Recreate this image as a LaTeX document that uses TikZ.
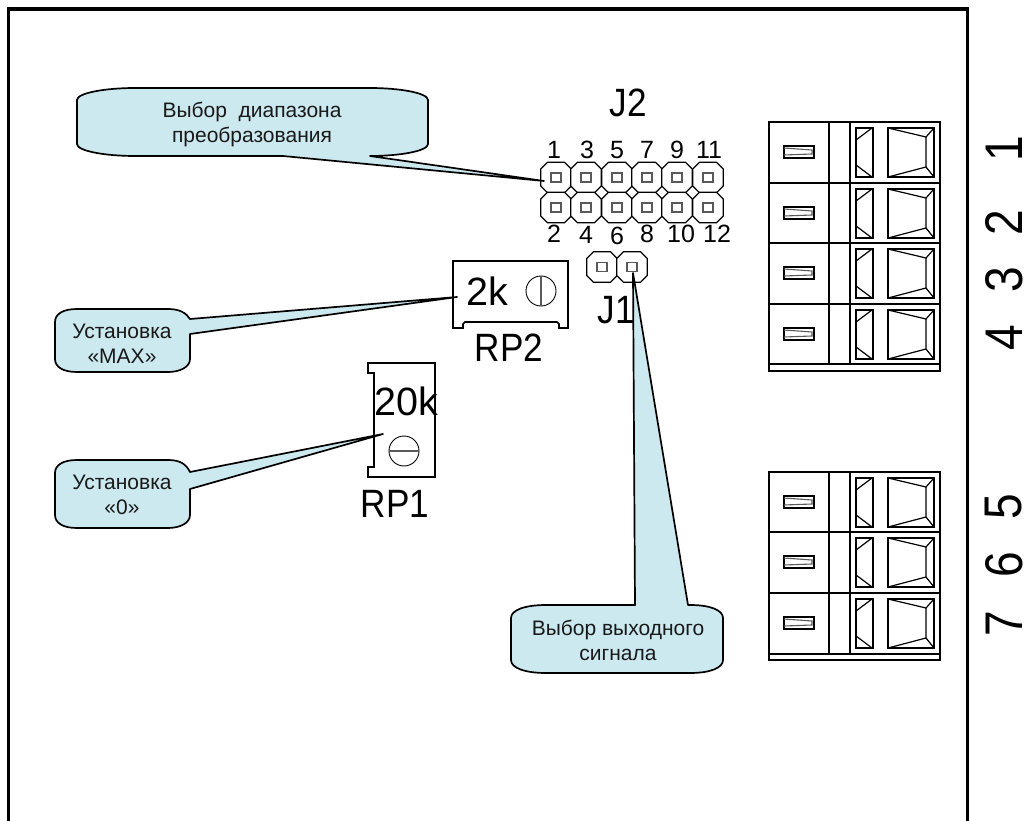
\documentclass[tikz,border=0pt]{standalone}
\usepackage{graphicx}
\usepackage{fontspec}
\setmainfont{Liberation Sans}
\definecolor{callfill}{HTML}{CCE9F0}
\tikzset{
  callout/.style={draw=black,fill=callfill,line width=1.7pt,line join=round},
  frameline/.style={draw=black,line width=3.3pt,line join=miter},
  partline/.style={draw=black,line width=1.6pt},
  thinpart/.style={draw=black,line width=1.2pt},
  graypart/.style={draw=black!65,line width=1.1pt},
  lab/.style={inner sep=0pt,font=\fontsize{21}{24.5}\selectfont,align=center,text=black!90},
  big/.style={inner sep=0pt,font=\fontsize{39.5}{44}\selectfont},
  pinnum/.style={inner sep=0pt,font=\fontsize{25}{28}\selectfont},
  side/.style={inner sep=0pt,rotate=90,font=\fontsize{53}{54}\selectfont},
  pic/.style={x=1pt,y=-1pt}
}
\newcommand{\tallt}[1]{\scalebox{.89}[1]{#1}}
\newcommand{\sidet}[1]{\scalebox{.87}[1]{#1}}
% octagonal pin at centre (#1,#2)
\newcommand{\pinoct}[2]{%
  \draw[thinpart,fill=white] (#1-15.3,#2-8.5) -- (#1-8.5,#2-15.3) -- (#1+8.5,#2-15.3) -- (#1+15.3,#2-8.5)
    -- (#1+15.3,#2+8.5) -- (#1+8.5,#2+15.3) -- (#1-8.5,#2+15.3) -- (#1-15.3,#2+8.5) -- cycle;
  \draw[graypart] (#1-5,#2-4.5) rectangle (#1+5,#2+4.5);}
% terminal row: top y, height
\newcommand{\termrow}[2]{%
  \draw[partline] (769,#1) rectangle (940,#1+#2);
  \draw[partline] (829,#1) -- (829,#1+#2);
  \draw[partline] (850,#1) -- (850,#1+#2);
  \draw[partline] (784,#1+24) rectangle (814,#1+36);
  \draw[graypart] (784,#1+26) -- (812,#1+28) -- (812,#1+32) -- (784,#1+33);
  \draw[partline] (856,#1+6) rectangle (873,#1+55);
  \draw[thinpart] (856,#1+18) -- (872,#1+6);
  \draw[thinpart] (856,#1+43) -- (872,#1+55);
  \draw[partline] (888,#1+6) rectangle (934,#1+55);
  \draw[thinpart] (888,#1+6) -- (926,#1+15) -- (934,#1+6);
  \draw[thinpart] (926,#1+15) -- (926,#1+45) -- (934,#1+55);
  \draw[thinpart] (926,#1+45) -- (888,#1+55);}
\begin{document}
\begin{tikzpicture}[pic]
\useasboundingbox (0,0) rectangle (1028,821);
\fill[white] (0,0) rectangle (1028,821);
% frame
\coordinate (fa) at (8.7,821);
\coordinate (fb) at (8.7,9);
\coordinate (fc) at (967.7,9);
\coordinate (fd) at (967.7,821);
\draw[frameline] (fa) -- (fb) -- (fc) -- (fd);
% terminals
\termrow{122}{61}\termrow{183}{60}\termrow{243}{61}\termrow{304}{60}
\draw[partline] (769,364) rectangle (940,371);
\termrow{472}{60}\termrow{532}{61}\termrow{593}{61}
\draw[partline] (769,654) rectangle (940,660);
% side numbers
\node[side] (s1) at (1004,149) {\sidet{1}};
\node[side] (s2) at (1004,223) {\sidet{2}};
\node[side] (s3) at (1004,280) {\sidet{3}};
\node[side] (s4) at (1004,338) {\sidet{4}};
\node[side] (s5) at (1004,507) {\sidet{5}};
\node[side] (s6) at (1004,565) {\sidet{6}};
\node[side] (s7) at (1004,624) {\sidet{7}};
% J2 header
\foreach \x in {556,586,617,647,677,708}{\pinoct{\x}{177.5}\pinoct{\x}{207.5}}
% J1 header
\pinoct{602}{267}\pinoct{632}{267}
\node[big] (j2) at (628,103) {\tallt{J2}};
\node[big] (j1) at (616,310) {\tallt{J1}};
\foreach \t/\x in {1/554,3/587,5/617,7/647,9/677,11/709}{\node[pinnum] at (\x,150) {\t};}
\foreach \t/\x/\y in {2/554/234,4/586/235,6/617/236,8/647/234,10/681/234,12/717/234}{\node[pinnum] at (\x,\y) {\t};}
% RP2
\draw[partline] (453,261) -- (568,261) -- (568,328) -- (559,328) -- (559,324) -- (557,322) -- (465,322) -- (463,324) -- (463,328) -- (453,328) -- cycle;
\draw[draw=black,line width=.9pt] (541,291) circle (15);
\draw[graypart] (541,276) -- (541,306);
\node[big] (k2) at (487.5,291) {2k};
\node[big] (rp2) at (509,347.5) {\tallt{RP2}};
% RP1
\draw[partline] (368,363) -- (435,363) -- (435,477) -- (368,477) -- (368,467) -- (374,467) -- (374,373) -- (368,373) -- cycle;
\draw[draw=black,line width=.9pt] (404,451) circle (15);
\draw[graypart] (389,451) -- (419,451);
\node[big] (k20) at (406,401) {20k};
\node[big] (rp1) at (395,504) {\tallt{RP1}};
% callouts
\coordinate (tipa) at (544,181);
\coordinate (tipb) at (457,297);
\coordinate (tipc) at (383,434);
\coordinate (tipd) at (633,273);
\draw[callout] (77,100) .. controls (77,93) and (105,88) .. (135,88) -- (370,88)
  .. controls (400,88) and (428,93) .. (428,100) -- (428,144)
  .. controls (428,151) and (400,156) .. (370,156) -- (tipa) -- (283,156) -- (135,156)
  .. controls (105,156) and (77,151) .. (77,144) -- cycle;
\draw[callout] (55,322) .. controls (55,314) and (63,309) .. (77,309) -- (168,309)
  .. controls (180,309) and (186,313) .. (190,319) -- (tipb) -- (190,334) -- (190,359)
  .. controls (190,367) and (180,372) .. (168,372) -- (77,372)
  .. controls (63,372) and (55,367) .. (55,359) -- cycle;
\draw[callout] (55,473) .. controls (55,465) and (63,460) .. (77,460) -- (168,460)
  .. controls (180,460) and (186,464) .. (190,472) -- (tipc) -- (190,489) -- (190,515)
  .. controls (190,523) and (180,528) .. (168,528) -- (77,528)
  .. controls (63,528) and (55,523) .. (55,515) -- cycle;
\draw[callout] (511,618) .. controls (511,610) and (525,605) .. (546,605) -- (635,605) -- (tipd) -- (688,605) -- (690,605)
  .. controls (710,605) and (723,610) .. (723,618) -- (723,660)
  .. controls (723,668) and (710,673) .. (690,673) -- (546,673)
  .. controls (525,673) and (511,668) .. (511,660) -- cycle;
\node[lab] (la) at (252,124.5) {Выбор\ \ диапазона\\преобразования};
\node[lab] (lb) at (122,344) {Установка\\«MAX»};
\node[lab] (lc) at (122,495) {Установка\\«0»};
\node[lab] (ld) at (618,640.5) {Выбор выходного\\сигнала};
\end{tikzpicture}
\end{document}
